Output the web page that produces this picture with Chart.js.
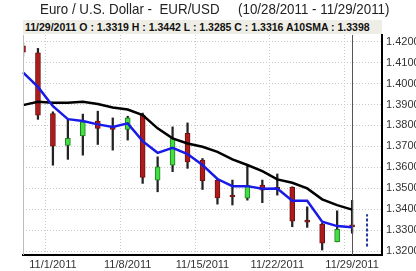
<!DOCTYPE html>
<html>
<head>
<meta charset="utf-8">
<script src="https://cdn.jsdelivr.net/npm/chart.js@4/dist/chart.umd.min.js"></script>
<style>
  body { margin: 0; background: #fff; }
  #wrap { position: relative; width: 416px; height: 271px; overflow: hidden; font-family: "Liberation Sans", Arial, sans-serif; }
  #chart { position: absolute; left: 0; top: 0; }
  #title { position: absolute; left: 40px; top: 0px; font-size: 15px; color: #222; white-space: pre;
           transform: scaleX(0.89); transform-origin: left top; }
  #info { position: absolute; left: 23px; top: 20px; width: 359px; height: 14px; background: #efeee6;
          font-size: 10.5px; font-weight: bold; color: #111; white-space: pre; line-height: 14px; padding-left: 2px; box-sizing: border-box; }
</style>
</head>
<body>
<div id="wrap">
  <canvas id="chart" width="416" height="271"></canvas>
  <div id="title">Euro / U.S. Dollar -  EUR/USD     (10/28/2011 - 11/29/2011)</div>
  <div id="info">11/29/2011 O : 1.3319 H : 1.3442 L : 1.3285 C : 1.3316 A10SMA : 1.3398</div>
</div>
<script>
// trading days, plus two empty slots on the right
const dates = ["10/28/2011", "10/31/2011", "11/1/2011", "11/2/2011", "11/3/2011", "11/4/2011",
  "11/7/2011", "11/8/2011", "11/9/2011", "11/10/2011", "11/11/2011", "11/14/2011",
  "11/15/2011", "11/16/2011", "11/17/2011", "11/18/2011", "11/21/2011", "11/22/2011",
  "11/23/2011", "11/24/2011", "11/25/2011", "11/28/2011", "11/29/2011", "11/30/2011", "12/1/2011"];
const shownDates = ["11/1/2011", "11/8/2011", "11/15/2011", "11/22/2011", "11/29/2011"];

const open  = [1.4180, 1.4147, 1.3857, 1.3705, 1.3750, 1.3821, 1.3789, 1.3781, 1.3849, 1.3539, 1.3610, 1.3762,
  1.3634, 1.3539, 1.3462, 1.3452, 1.3515, 1.3498, 1.3504, 1.3341, 1.3329, 1.3244, 1.3319];
const high  = [1.4195, 1.4168, 1.3865, 1.3830, 1.3854, 1.3868, 1.3836, 1.3844, 1.3859, 1.3650, 1.3793, 1.3812,
  1.3642, 1.3547, 1.3539, 1.3606, 1.3539, 1.3568, 1.3507, 1.3411, 1.3332, 1.3392, 1.3442];
const low   = [1.4130, 1.3829, 1.3610, 1.3638, 1.3658, 1.3709, 1.3682, 1.3730, 1.3523, 1.3483, 1.3579, 1.3595,
  1.3494, 1.3424, 1.3420, 1.3443, 1.3431, 1.3467, 1.3316, 1.3313, 1.3205, 1.3244, 1.3285];
const close = [1.4150, 1.3849, 1.3701, 1.3738, 1.3817, 1.3786, 1.3781, 1.3836, 1.3552, 1.3602, 1.3738, 1.3626,
  1.3536, 1.3454, 1.3458, 1.3515, 1.3491, 1.3495, 1.3343, 1.3338, 1.3237, 1.3304, 1.3316];

const sma10 = [1.3897, 1.3913, 1.3908, 1.3908, 1.3913, 1.3902, 1.3886, 1.3876, 1.3849, 1.3786, 1.3738, 1.3714,
  1.3698, 1.3674, 1.3638, 1.3611, 1.3582, 1.3542, 1.3526, 1.3499, 1.3447, 1.3419, 1.3398];
const fastAvg = [1.4053, 1.3984, 1.3892, 1.3830, 1.3821, 1.3805, 1.3793, 1.3810, 1.3725, 1.3669, 1.3693, 1.3663,
  1.3611, 1.3544, 1.3510, 1.3510, 1.3498, 1.3499, 1.3440, 1.3440, 1.3340, 1.3319, 1.3313];

const nextRange = [1.3222, 1.3376];
const yTicks = [1.32, 1.33, 1.34, 1.35, 1.36, 1.37, 1.38, 1.39, 1.40, 1.41, 1.42];

const isUp = open.map((o, i) => close[i] >= o);

// frame lines: left edge of the plot and the cursor at the last day
const framePlugin = {
  id: "frame",
  afterDatasetsDraw(chart) {
    const { ctx, chartArea, scales } = chart;
    ctx.save();
    ctx.strokeStyle = "#bdbdbd";
    ctx.lineWidth = 1;
    ctx.beginPath();
    ctx.moveTo(chartArea.left + 0.5, chartArea.top);
    ctx.lineTo(chartArea.left + 0.5, chartArea.bottom);
    ctx.stroke();
    const x = Math.round(scales.x.getPixelForValue(dates.indexOf("11/29/2011"))) + 0.5;
    ctx.strokeStyle = "#555";
    ctx.beginPath();
    ctx.moveTo(x, chartArea.top);
    ctx.lineTo(x, chartArea.bottom);
    ctx.stroke();
    ctx.restore();
  }
};

new Chart(document.getElementById("chart"), {
  type: "bar",
  data: {
    labels: dates,
    datasets: [
      {
        type: "line",
        data: fastAvg,
        borderColor: "#1a1ae6",
        borderWidth: 2.5,
        pointRadius: 0,
        tension: 0,
        order: 0
      },
      {
        type: "line",
        data: sma10,
        borderColor: "#000",
        borderWidth: 2.5,
        pointRadius: 0,
        tension: 0,
        order: 0
      },
      {
        type: "line",
        data: nextRange.map(v => ({ x: "11/30/2011", y: v })),
        borderColor: "#23399a",
        borderWidth: 2,
        borderDash: [3, 2],
        pointRadius: 0,
        order: 0
      },
      {
        data: open.map((o, i) => [o, close[i]]),
        backgroundColor: isUp.map(u => u ? "#3fe03f" : "#ad1c1c"),
        borderColor: isUp.map(u => u ? "#237a23" : "#6e1010"),
        borderWidth: 1,
        borderSkipped: false,
        barThickness: 5,
        minBarLength: 2,
        grouped: false,
        order: 1
      },
      {
        data: low.map((l, i) => [l, high[i]]),
        backgroundColor: "#222",
        borderWidth: 0,
        barThickness: 1.6,
        grouped: false,
        order: 2
      }
    ]
  },
  options: {
    responsive: false,
    animation: false,
    layout: { padding: { left: 23, top: 35, right: 0, bottom: 0 } },
    plugins: { legend: { display: false }, tooltip: { enabled: false } },
    scales: {
      x: {
        offset: false,
        afterFit: s => { s.height = 16; },
        grid: {
          drawTicks: false,
          color: c => shownDates.includes(dates[c.index]) ? "#c8c8c8" : "rgba(0,0,0,0)"
        },
        border: { display: true, color: "#000", width: 2, dash: [1, 2] },
        ticks: {
          autoSkip: false,
          maxRotation: 0,
          padding: 3,
          color: "#333",
          font: { family: "'Liberation Sans', Arial", size: 11 },
          callback: (v, i) => shownDates.includes(dates[i]) ? dates[i] : ""
        }
      },
      y: {
        position: "right",
        min: 1.3181,
        max: 1.4232,
        afterFit: s => { s.width = 34; },
        afterBuildTicks: s => { s.ticks = yTicks.map(v => ({ value: v })); },
        grid: { drawTicks: false, color: "#c8c8c8" },
        border: { display: true, color: "#000", width: 2, dash: [1, 2] },
        ticks: {
          padding: 4,
          color: "#333",
          font: { family: "'Liberation Sans', Arial", size: 11 },
          callback: v => v.toFixed(4)
        }
      }
    }
  },
  plugins: [framePlugin]
});
</script>
</body>
</html>
